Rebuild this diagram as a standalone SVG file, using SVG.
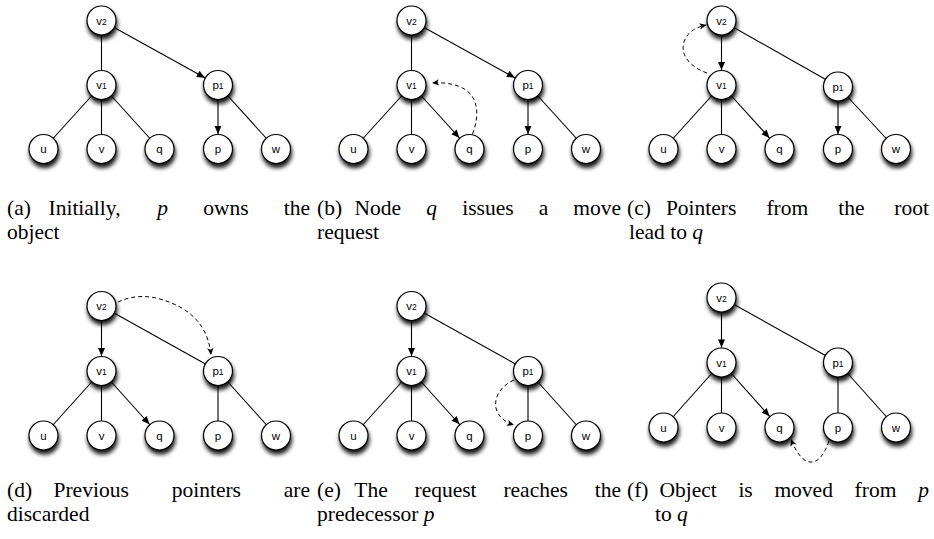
<svg xmlns="http://www.w3.org/2000/svg" width="934" height="539" viewBox="0 0 934 539">
<style>
.n circle{fill:#fff;stroke:#000;stroke-width:1.2;filter:url(#sh)}
.n text{font-family:"Liberation Sans",Arial,sans-serif;font-size:11.5px;text-anchor:middle;fill:#000}
.n tspan.s{font-size:8.5px}
.e{stroke:#000;stroke-width:1.1;fill:none}
.ea{stroke:#000;stroke-width:1.1;fill:none;marker-end:url(#ah)}
.d{stroke:#000;stroke-width:1;fill:none;stroke-dasharray:4 3;marker-end:url(#dh)}
.cap{font-family:"Liberation Serif","Times New Roman",serif;font-size:21.5px;fill:#000}
.cap .i{font-style:italic}
</style>
<defs>
<filter id="sh" x="-60%" y="-60%" width="220%" height="240%">
<feGaussianBlur in="SourceAlpha" stdDeviation="2.3"/>
<feOffset dx="1" dy="3.5"/>
<feComponentTransfer><feFuncA type="linear" slope="0.9"/></feComponentTransfer>
<feMerge><feMergeNode/><feMergeNode in="SourceGraphic"/></feMerge>
</filter>
<marker id="ah" markerUnits="userSpaceOnUse" markerWidth="40" markerHeight="10" refX="23" refY="3.5" orient="auto" overflow="visible">
<path d="M0,0 L8,3.5 L0,7 z" fill="#000"/>
</marker>
<marker id="dh" markerUnits="userSpaceOnUse" markerWidth="10" markerHeight="10" refX="7" refY="3.5" orient="auto" overflow="visible">
<path d="M0,0.3 L7,3.5 L0,6.7 L1.8,3.5 z" fill="#000"/>
</marker>
</defs>

<g id="connectors">
<!-- (a) -->
<line class="e" x1="101.5" y1="20.5" x2="101.5" y2="85"/>
<line class="ea" x1="101.5" y1="20.5" x2="218" y2="85"/>
<line class="e" x1="101.5" y1="85" x2="43.5" y2="149"/>
<line class="e" x1="101.5" y1="85" x2="101.5" y2="149"/>
<line class="e" x1="101.5" y1="85" x2="159.5" y2="149"/>
<line class="ea" x1="218" y1="85" x2="218" y2="149"/>
<line class="e" x1="218" y1="85" x2="276" y2="149"/>
<!-- (b) -->
<line class="e" x1="411.5" y1="20.5" x2="411.5" y2="85"/>
<line class="ea" x1="411.5" y1="20.5" x2="528" y2="85"/>
<line class="e" x1="411.5" y1="85" x2="353.5" y2="149"/>
<line class="e" x1="411.5" y1="85" x2="411.5" y2="149"/>
<line class="ea" x1="411.5" y1="85" x2="469.5" y2="149"/>
<line class="ea" x1="528" y1="85" x2="528" y2="149"/>
<line class="e" x1="528" y1="85" x2="586" y2="149"/>
<path class="d" d="M472.5,134 C479,118 479,99 466,90 C457,84 444,82 432,83"/>
<!-- (c) -->
<line class="ea" x1="721.5" y1="20.5" x2="721.5" y2="85"/>
<line class="e" x1="721.5" y1="20.5" x2="838" y2="86.5"/>
<line class="e" x1="721.5" y1="85" x2="663.5" y2="149"/>
<line class="e" x1="721.5" y1="85" x2="721.5" y2="149"/>
<line class="ea" x1="721.5" y1="85" x2="779.5" y2="149"/>
<line class="ea" x1="838" y1="86.5" x2="838" y2="149"/>
<line class="e" x1="838" y1="86.5" x2="896" y2="149"/>
<path class="d" d="M707,73 C690,67 680,55 684,42 C687,32 696,27 706.5,25"/>
<!-- (d) -->
<line class="ea" x1="101.5" y1="306" x2="101.5" y2="371"/>
<line class="e" x1="101.5" y1="306" x2="218" y2="371"/>
<line class="e" x1="101.5" y1="371" x2="43.5" y2="435.5"/>
<line class="e" x1="101.5" y1="371" x2="101.5" y2="435.5"/>
<line class="ea" x1="101.5" y1="371" x2="159.5" y2="435.5"/>
<line class="e" x1="218" y1="371" x2="218" y2="435.5"/>
<line class="e" x1="218" y1="371" x2="276" y2="435.5"/>
<path class="d" d="M118,302 C135,294 155,294 180,307 C200,318 209,335 211,355"/>
<!-- (e) -->
<line class="ea" x1="411.5" y1="306" x2="411.5" y2="371"/>
<line class="e" x1="411.5" y1="306" x2="528" y2="371"/>
<line class="e" x1="411.5" y1="371" x2="353.5" y2="435.5"/>
<line class="e" x1="411.5" y1="371" x2="411.5" y2="435.5"/>
<line class="ea" x1="411.5" y1="371" x2="469.5" y2="435.5"/>
<line class="e" x1="528" y1="371" x2="528" y2="435.5"/>
<line class="e" x1="528" y1="371" x2="586" y2="435.5"/>
<path class="d" d="M514,380 C500,386 494,398 496,408 C498,417 505,422 514,425"/>
<!-- (f) -->
<line class="ea" x1="721.5" y1="297.5" x2="721.5" y2="362.5"/>
<line class="e" x1="721.5" y1="297.5" x2="838" y2="362.5"/>
<line class="e" x1="721.5" y1="362.5" x2="663.5" y2="427.5"/>
<line class="e" x1="721.5" y1="362.5" x2="721.5" y2="427.5"/>
<line class="ea" x1="721.5" y1="362.5" x2="779.5" y2="427.5"/>
<line class="e" x1="838" y1="362.5" x2="838" y2="427.5"/>
<line class="e" x1="838" y1="362.5" x2="896" y2="427.5"/>
<path class="d" d="M829,441 C824,455 818,463 810,462 C802,461 796,452 791,439"/>
</g>

<!-- (a) nodes -->
<g id="a-v2" class="n" transform="translate(101.5,20.5)"><circle r="14.5"/><text y="4">v<tspan class="s">2</tspan></text></g>
<g id="a-v1" class="n" transform="translate(101.5,85)"><circle r="14.5"/><text y="4">v<tspan class="s">1</tspan></text></g>
<g id="a-p1" class="n" transform="translate(218,85)"><circle r="14.5"/><text y="4">p<tspan class="s">1</tspan></text></g>
<g id="a-u" class="n" transform="translate(43.5,149)"><circle r="14.5"/><text y="4">u</text></g>
<g id="a-v" class="n" transform="translate(101.5,149)"><circle r="14.5"/><text y="4">v</text></g>
<g id="a-q" class="n" transform="translate(159.5,149)"><circle r="14.5"/><text y="4">q</text></g>
<g id="a-p" class="n" transform="translate(218,149)"><circle r="14.5"/><text y="4">p</text></g>
<g id="a-w" class="n" transform="translate(276,149)"><circle r="14.5"/><text y="4">w</text></g>
<!-- (b) nodes -->
<g id="b-v2" class="n" transform="translate(411.5,20.5)"><circle r="14.5"/><text y="4">v<tspan class="s">2</tspan></text></g>
<g id="b-v1" class="n" transform="translate(411.5,85)"><circle r="14.5"/><text y="4">v<tspan class="s">1</tspan></text></g>
<g id="b-p1" class="n" transform="translate(528,85)"><circle r="14.5"/><text y="4">p<tspan class="s">1</tspan></text></g>
<g id="b-u" class="n" transform="translate(353.5,149)"><circle r="14.5"/><text y="4">u</text></g>
<g id="b-v" class="n" transform="translate(411.5,149)"><circle r="14.5"/><text y="4">v</text></g>
<g id="b-q" class="n" transform="translate(469.5,149)"><circle r="14.5"/><text y="4">q</text></g>
<g id="b-p" class="n" transform="translate(528,149)"><circle r="14.5"/><text y="4">p</text></g>
<g id="b-w" class="n" transform="translate(586,149)"><circle r="14.5"/><text y="4">w</text></g>
<!-- (c) nodes -->
<g id="c-v2" class="n" transform="translate(721.5,20.5)"><circle r="14.5"/><text y="4">v<tspan class="s">2</tspan></text></g>
<g id="c-v1" class="n" transform="translate(721.5,85)"><circle r="14.5"/><text y="4">v<tspan class="s">1</tspan></text></g>
<g id="c-p1" class="n" transform="translate(838,86.5)"><circle r="14.5"/><text y="4">p<tspan class="s">1</tspan></text></g>
<g id="c-u" class="n" transform="translate(663.5,149)"><circle r="14.5"/><text y="4">u</text></g>
<g id="c-v" class="n" transform="translate(721.5,149)"><circle r="14.5"/><text y="4">v</text></g>
<g id="c-q" class="n" transform="translate(779.5,149)"><circle r="14.5"/><text y="4">q</text></g>
<g id="c-p" class="n" transform="translate(838,149)"><circle r="14.5"/><text y="4">p</text></g>
<g id="c-w" class="n" transform="translate(896,149)"><circle r="14.5"/><text y="4">w</text></g>
<!-- (d) nodes -->
<g id="d-v2" class="n" transform="translate(101.5,306)"><circle r="14.5"/><text y="4">v<tspan class="s">2</tspan></text></g>
<g id="d-v1" class="n" transform="translate(101.5,371)"><circle r="14.5"/><text y="4">v<tspan class="s">1</tspan></text></g>
<g id="d-p1" class="n" transform="translate(218,371)"><circle r="14.5"/><text y="4">p<tspan class="s">1</tspan></text></g>
<g id="d-u" class="n" transform="translate(43.5,435.5)"><circle r="14.5"/><text y="4">u</text></g>
<g id="d-v" class="n" transform="translate(101.5,435.5)"><circle r="14.5"/><text y="4">v</text></g>
<g id="d-q" class="n" transform="translate(159.5,435.5)"><circle r="14.5"/><text y="4">q</text></g>
<g id="d-p" class="n" transform="translate(218,435.5)"><circle r="14.5"/><text y="4">p</text></g>
<g id="d-w" class="n" transform="translate(276,435.5)"><circle r="14.5"/><text y="4">w</text></g>
<!-- (e) nodes -->
<g id="e-v2" class="n" transform="translate(411.5,306)"><circle r="14.5"/><text y="4">v<tspan class="s">2</tspan></text></g>
<g id="e-v1" class="n" transform="translate(411.5,371)"><circle r="14.5"/><text y="4">v<tspan class="s">1</tspan></text></g>
<g id="e-p1" class="n" transform="translate(528,371)"><circle r="14.5"/><text y="4">p<tspan class="s">1</tspan></text></g>
<g id="e-u" class="n" transform="translate(353.5,435.5)"><circle r="14.5"/><text y="4">u</text></g>
<g id="e-v" class="n" transform="translate(411.5,435.5)"><circle r="14.5"/><text y="4">v</text></g>
<g id="e-q" class="n" transform="translate(469.5,435.5)"><circle r="14.5"/><text y="4">q</text></g>
<g id="e-p" class="n" transform="translate(528,435.5)"><circle r="14.5"/><text y="4">p</text></g>
<g id="e-w" class="n" transform="translate(586,435.5)"><circle r="14.5"/><text y="4">w</text></g>
<!-- (f) nodes -->
<g id="f-v2" class="n" transform="translate(721.5,297.5)"><circle r="14.5"/><text y="4">v<tspan class="s">2</tspan></text></g>
<g id="f-v1" class="n" transform="translate(721.5,362.5)"><circle r="14.5"/><text y="4">v<tspan class="s">1</tspan></text></g>
<g id="f-p1" class="n" transform="translate(838,362.5)"><circle r="14.5"/><text y="4">p<tspan class="s">1</tspan></text></g>
<g id="f-u" class="n" transform="translate(663.5,427.5)"><circle r="14.5"/><text y="4">u</text></g>
<g id="f-v" class="n" transform="translate(721.5,427.5)"><circle r="14.5"/><text y="4">v</text></g>
<g id="f-q" class="n" transform="translate(779.5,427.5)"><circle r="14.5"/><text y="4">q</text></g>
<g id="f-p" class="n" transform="translate(838,427.5)"><circle r="14.5"/><text y="4">p</text></g>
<g id="f-w" class="n" transform="translate(896,427.5)"><circle r="14.5"/><text y="4">w</text></g>

<g id="captions" class="cap">
<text y="215"><tspan x="7">(a)</tspan><tspan x="48.5">Initially,</tspan><tspan x="157.2" class="i">p</tspan><tspan x="203.2">owns</tspan><tspan x="310" text-anchor="end">the</tspan></text>
<text x="7" y="239">object</text>
<text y="215"><tspan x="317">(b)</tspan><tspan x="354.6">Node</tspan><tspan x="426.3" class="i">q</tspan><tspan x="462.2">issues</tspan><tspan x="538.7">a</tspan><tspan x="621" text-anchor="end">move</tspan></text>
<text x="317" y="239">request</text>
<text y="215"><tspan x="627">(c)</tspan><tspan x="665.9">Pointers</tspan><tspan x="766.4">from</tspan><tspan x="838.2">the</tspan><tspan x="929" text-anchor="end">root</tspan></text>
<text x="629" y="239">lead to <tspan class="i">q</tspan></text>
<text y="497"><tspan x="7">(d)</tspan><tspan x="53.5">Previous</tspan><tspan x="171.7">pointers</tspan><tspan x="310" text-anchor="end">are</tspan></text>
<text x="7" y="521">discarded</text>
<text y="497"><tspan x="317">(e)</tspan><tspan x="354.3">The</tspan><tspan x="414.5">request</tspan><tspan x="503.4">reaches</tspan><tspan x="621" text-anchor="end">the</tspan></text>
<text x="317" y="521">predecessor <tspan class="i">p</tspan></text>
<text y="497"><tspan x="627">(f)</tspan><tspan x="659.4">Object</tspan><tspan x="738.4">is</tspan><tspan x="774.4">moved</tspan><tspan x="854.6">from</tspan><tspan x="929" text-anchor="end" class="i">p</tspan></text>
<text x="655" y="521">to <tspan class="i">q</tspan></text>
</g>
</svg>
